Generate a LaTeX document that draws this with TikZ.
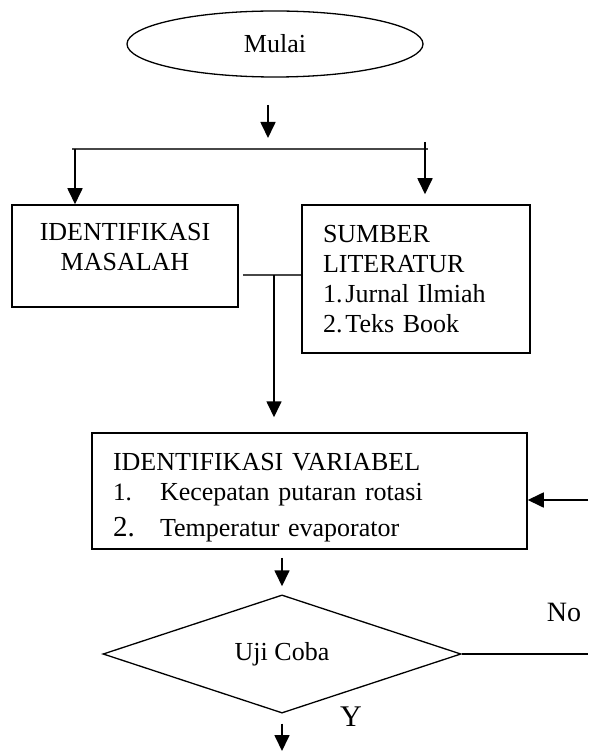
\documentclass[tikz,border=0pt]{standalone}
\usepackage{fontspec}
\setmainfont{Liberation Serif}
\usetikzlibrary{arrows.meta,shapes.geometric}
\tikzset{every node/.style={font=\fontsize{26}{30}\selectfont}}
\colorlet{linecol}{black}
\colorlet{splitcol}{black!72}
\colorlet{textcol}{black}
\tikzset{
  procbox/.style={draw=linecol, line width=1.5pt, inner sep=0pt, text=textcol},
  termshape/.style={ellipse, draw=linecol, line width=1.3pt, inner sep=0pt,
    minimum width=296pt, minimum height=66pt, text=textcol},
  decshape/.style={diamond, draw=linecol, line width=1.3pt, inner sep=0pt,
    minimum width=358pt, minimum height=102pt, text=textcol},
  flow/.style={->, line width=1.7pt, linecol},
  split/.style={line width=1.4pt, splitcol},
}

\begin{document}
\begin{tikzpicture}[x=1pt, y=-1pt, >={Triangle[length=16pt, width=15pt]}]

  % Page frame.
  \useasboundingbox (0,0) rectangle (588,751);
  \fill[white] (0,0) rectangle (588,751);

  % Start.
  \node[termshape] (mulai) at (275,44) {Mulai};

  % Arrow down to the split line.
  \coordinate (startTop) at (268,105);
  \coordinate (startEnd) at (268,138);
  \draw[flow] (startTop) -- (startEnd);

  % Split line.
  \coordinate (splitL) at (72,149);
  \coordinate (splitR) at (428,149);
  \draw[split] (splitL) -- (splitR);

  % Problem and literature boxes.
  \node[procbox, minimum width=226pt, minimum height=102pt, align=center]
    (masalah) at (125,256) {IDENTIFIKASI\\MASALAH\\[-12pt]\mbox{}};
  \node[procbox, minimum width=228pt, minimum height=148pt,
    text width=186pt, inner xsep=21pt, align=left]
    (sumber) at (416,279)
    {SUMBER\\LITERATUR\\1.\hspace{3pt}Jurnal Ilmiah\\2.\hspace{3pt}Teks Book};

  % Arrows into the two boxes.
  \coordinate (leftTop) at (75,149);
  \draw[flow] (leftTop) -- (leftTop |- masalah.north);
  \coordinate (rightTop) at (425,142);
  \draw[flow] (rightTop) -- ([yshift=10pt]rightTop |- sumber.north);

  % Variable box.
  \node[procbox, minimum width=435pt, minimum height=116pt,
    text width=393pt, inner xsep=21pt, align=left]
    (var) at (309.5,491)
    {\rule{0pt}{30pt}IDENTIFIKASI VARIABEL\\
     \makebox[47pt][l]{\fontsize{25}{30}\selectfont 1.}Kecepatan putaran rotasi\\[6pt]
     \makebox[47pt][l]{\fontsize{29}{30}\selectfont 2.}Temperatur evaporator};

  % Join of both boxes, then down.
  \coordinate (join) at (274,275);
  \draw[line width=1.1pt, splitcol] ([xshift=4pt]masalah.east |- join)
    -- (sumber.west |- join);
  \draw[flow] (join) -- ([yshift=15pt]join |- var.north);

  % Decision.
  \node[decshape] (test) at (282,654) {Uji Coba};
  \draw[flow] ([yshift=-8pt]test.north |- var.south) -- ([yshift=8pt]test.north);

  % Yes branch.
  \coordinate (yesEnd) at (282,751);
  \draw[flow] ([yshift=-10pt]test.south) -- (yesEnd);
  \node[font=\fontsize{30}{30}\selectfont] (yes) at (351,717) {Y};

  % No branch, back to the variable box.
  \coordinate (noEnd) at (588,654);
  \coordinate (backStart) at (588,500);
  \draw[line width=1.5pt, linecol] (test.east) -- (noEnd);
  \draw[flow] (backStart) -- (var.east |- backStart);
  \node[font=\fontsize{28}{30}\selectfont] (no) at (564,612) {No};

\end{tikzpicture}
\end{document}
